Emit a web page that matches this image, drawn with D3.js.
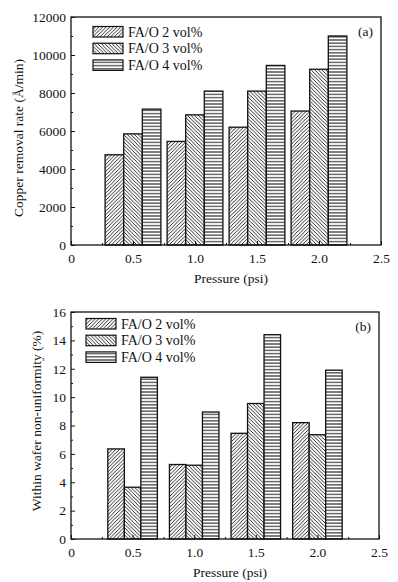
<!DOCTYPE html>
<html>
<head>
<meta charset="utf-8">
<script src="https://cdn.jsdelivr.net/npm/d3@7"></script>
<style>
  body { margin: 0; background: #fff; }
  svg { display: block; }
  text { font-family: "Liberation Serif", "Times New Roman", Times, serif; fill: #111; }
</style>
</head>
<body>
<script>
// values
var pressures = [0.5, 1.0, 1.5, 2.0];
var seriesNames = ["FA/O 2 vol%", "FA/O 3 vol%", "FA/O 4 vol%"];

var removalFA2 = [4750, 5450, 6200, 7050];
var removalFA3 = [5850, 6850, 8100, 9250];
var removalFA4 = [7150, 8100, 9450, 11000];

var wiwnuFA2 = [6.35, 5.25, 7.45, 8.2];
var wiwnuFA3 = [3.65, 5.2, 9.55, 7.35];
var wiwnuFA4 = [11.4, 8.95, 14.4, 11.9];

var xTicks = [0, 0.5, 1.0, 1.5, 2.0, 2.5];
var xMinor = [0.25, 0.75, 1.25, 1.75, 2.25];

var width = 398, height = 582;

var svg = d3.select("body").append("svg")
  .attr("width", width)
  .attr("height", height);

// hatch fills
var defs = svg.append("defs");
var pat = ["hatchA", "hatchB", "hatchC"];

var p1 = defs.append("pattern").attr("id", pat[0])
  .attr("patternUnits", "userSpaceOnUse").attr("width", 3.6).attr("height", 3.6);
p1.append("rect").attr("width", 3.6).attr("height", 3.6).attr("fill", "#fff");
p1.append("path").attr("d", "M-0.9,0.9 L0.9,-0.9 M0,3.6 L3.6,0 M2.7,4.5 L4.5,2.7")
  .attr("stroke", "#111").attr("stroke-width", 0.9);

var p2 = defs.append("pattern").attr("id", pat[1])
  .attr("patternUnits", "userSpaceOnUse").attr("width", 3.6).attr("height", 3.6);
p2.append("rect").attr("width", 3.6).attr("height", 3.6).attr("fill", "#fff");
p2.append("path").attr("d", "M-0.9,2.7 L0.9,4.5 M0,0 L3.6,3.6 M2.7,-0.9 L4.5,0.9")
  .attr("stroke", "#111").attr("stroke-width", 0.9);

var p3 = defs.append("pattern").attr("id", pat[2])
  .attr("patternUnits", "userSpaceOnUse").attr("width", 4).attr("height", 3.2);
p3.append("rect").attr("width", 4).attr("height", 3.2).attr("fill", "#fff");
p3.append("path").attr("d", "M0,1.6 L4,1.6")
  .attr("stroke", "#111").attr("stroke-width", 1);

function drawPanel(opt) {
  var xScale = d3.scaleLinear().domain([0, 2.5]).range([opt.left, opt.right]);
  var yScale = d3.scaleLinear().domain([0, opt.yMax]).range([opt.bottom, opt.top]);
  var g = svg.append("g");

  // bars
  var bw = opt.barW;
  opt.series.forEach(function(vals, si) {
    g.selectAll(null).data(vals).enter().append("rect")
      .attr("x", function(d, i) { return xScale(pressures[i] + (si - 1.5) * bw); })
      .attr("y", function(d) { return yScale(d); })
      .attr("width", function(d, i) { return xScale(pressures[i] + (si - 0.5) * bw) - xScale(pressures[i] + (si - 1.5) * bw); })
      .attr("height", function(d) { return yScale(0) - yScale(d); })
      .attr("fill", "url(#" + pat[si] + ")")
      .attr("stroke", "#111")
      .attr("stroke-width", 1.3);
  });

  // frame
  g.append("rect")
    .attr("x", opt.left).attr("y", opt.top)
    .attr("width", opt.right - opt.left).attr("height", opt.bottom - opt.top)
    .attr("fill", "none").attr("stroke", "#111").attr("stroke-width", 1.3);

  // axes, ticks pointing in
  var xAx = g.append("g").attr("transform", "translate(0," + opt.bottom + ")")
    .call(d3.axisBottom(xScale).tickValues(xTicks)
      .tickFormat(function(d) { return d === 0 ? "0" : d3.format(".1f")(d); })
      .tickSizeInner(-4).tickSizeOuter(0).tickPadding(8));
  g.append("g").attr("transform", "translate(0," + opt.bottom + ")")
    .call(d3.axisBottom(xScale).tickValues(xMinor).tickFormat("")
      .tickSizeInner(-2).tickSizeOuter(0));

  g.append("g").attr("transform", "translate(" + opt.left + ",0)")
    .call(d3.axisLeft(yScale).tickValues(opt.yTicks).tickFormat(d3.format("d"))
      .tickSizeInner(-4).tickSizeOuter(0).tickPadding(5));
  g.append("g").attr("transform", "translate(" + opt.left + ",0)")
    .call(d3.axisLeft(yScale).tickValues(opt.yMinor).tickFormat("")
      .tickSizeInner(-2).tickSizeOuter(0));

  g.selectAll(".domain").remove();
  g.selectAll(".tick line").attr("stroke", "#111");
  g.selectAll(".tick text").style("font-size", "13.5px").attr("fill", "#111");

  // axis titles
  g.append("text")
    .attr("text-anchor", "middle")
    .attr("x", (opt.left + opt.right) / 2 + 5)
    .attr("y", opt.bottom + 38)
    .style("font-size", "13.5px")
    .text("Pressure (psi)");

  g.append("text")
    .attr("text-anchor", "middle")
    .attr("transform", "translate(" + opt.yLabelX + "," + opt.yLabelY + ")rotate(-90)")
    .style("font-size", "13.5px")
    .text(opt.yLabel);

  // panel tag
  g.append("text")
    .attr("text-anchor", "end")
    .attr("x", opt.right - 8)
    .attr("y", opt.top + 19)
    .style("font-size", "13.5px")
    .text(opt.tag);

  // legend
  seriesNames.forEach(function(name, si) {
    var ly = opt.legTop + si * 16.7;
    g.append("rect")
      .attr("x", opt.legLeft).attr("y", ly)
      .attr("width", 30).attr("height", 10.5)
      .attr("fill", "url(#" + pat[si] + ")")
      .attr("stroke", "#111").attr("stroke-width", 1.2);
    g.append("text")
      .attr("x", opt.legLeft + 35)
      .attr("y", ly + 10)
      .style("font-size", "14px")
      .text(name);
  });
}

drawPanel({
  left: 71, right: 381, top: 17, bottom: 245,
  yMax: 12000,
  yTicks: [0, 2000, 4000, 6000, 8000, 10000, 12000],
  yMinor: [1000, 3000, 5000, 7000, 9000, 11000],
  series: [removalFA2, removalFA3, removalFA4],
  barW: 0.15,
  yLabel: "Copper removal rate (Å/min)",
  yLabelX: 23, yLabelY: 138,
  tag: "(a)",
  legLeft: 93, legTop: 26.5
});

drawPanel({
  left: 71, right: 379, top: 312, bottom: 539,
  yMax: 16,
  yTicks: [0, 2, 4, 6, 8, 10, 12, 14, 16],
  yMinor: [1, 3, 5, 7, 9, 11, 13, 15],
  series: [wiwnuFA2, wiwnuFA3, wiwnuFA4],
  barW: 0.134,
  yLabel: "Within wafer non-uniformity (%)",
  yLabelX: 41, yLabelY: 421,
  tag: "(b)",
  legLeft: 86, legTop: 318.5
});
</script>
</body>
</html>
